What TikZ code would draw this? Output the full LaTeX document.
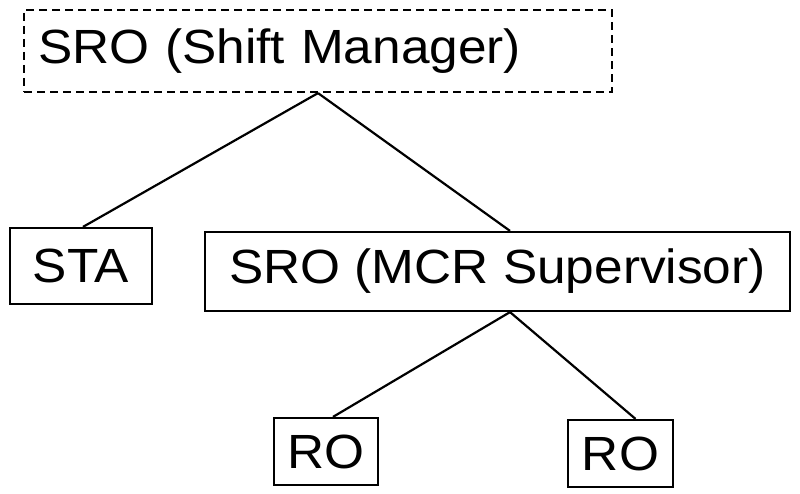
\documentclass[tikz,border=0pt]{standalone}
\usepackage{fontspec}
\setmainfont{Liberation Sans}[FakeStretch=1.07]
\begin{document}
\begin{tikzpicture}[x=1pt,y=-1pt,
  box/.style={draw=black, line width=2.2pt, inner sep=0pt, font=\fontsize{48}{58}\selectfont},
  link/.style={draw=black, line width=2.2pt}]
\useasboundingbox (0,0) rectangle (800,494);
\node[box, dashed, dash pattern=on 8pt off 5pt, minimum width=588pt, minimum height=82pt,
  text width=560pt, align=left, inner xsep=14pt] (top) at (318,51) {SRO (Shift Manager)};
\node[box, minimum width=142pt, minimum height=76pt] (sta) at (81,266) {STA};
\node[box, minimum width=585pt, minimum height=79pt] (mcr) at (497.5,271.5) {SRO (MCR Supervisor)};
\node[box, minimum width=104pt, minimum height=67pt] (ro1) at (326,451.5) {RO};
\node[box, minimum width=105pt, minimum height=67pt] (ro2) at (620.5,453.5) {RO};
\draw[link] (top.south) -- ([xshift=2pt]sta.north);
\draw[link] (top.south) -- ([xshift=12.5pt]mcr.north);
\draw[link] ([xshift=12.5pt]mcr.south) -- ([xshift=7pt]ro1.north);
\draw[link] ([xshift=12.5pt]mcr.south) -- ([xshift=15pt]ro2.north);
\end{tikzpicture}
\end{document}
